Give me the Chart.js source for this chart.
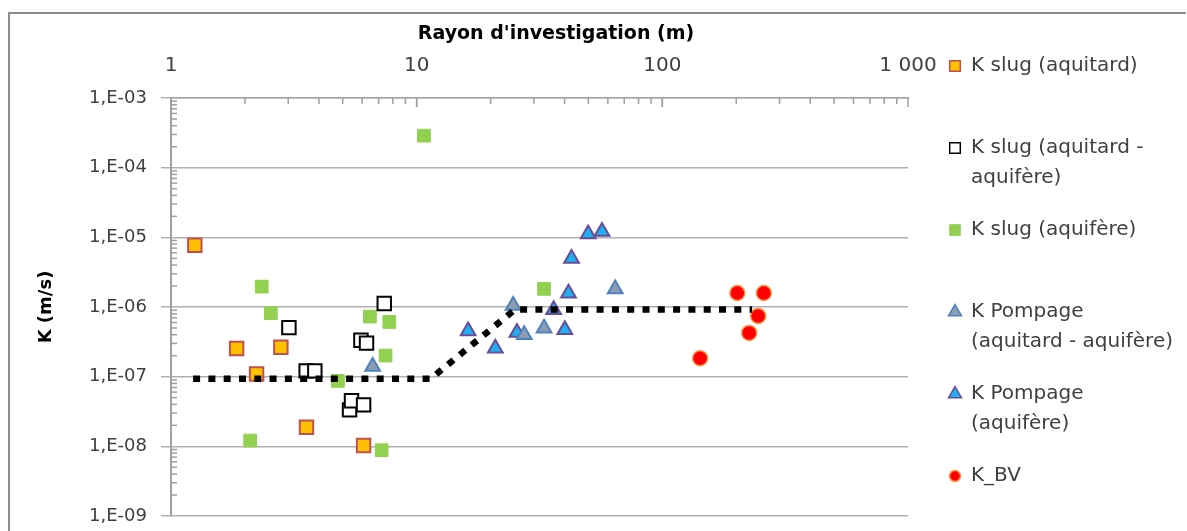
<!DOCTYPE html>
<html>
<head>
<meta charset="utf-8">
<script src="https://cdn.jsdelivr.net/npm/chart.js@4.4.1/dist/chart.umd.min.js"></script>
<style>
  html, body { margin: 0; padding: 0; background: #fff; overflow: hidden; }
  #graficoK { display: block; }
</style>
</head>
<body>
<canvas id="graficoK" width="1187" height="531"></canvas>
<script>
// valeurs (rayon en m, K en m/s)
const rayonSlugAquitard = [1.25, 1.85, 2.8, 2.23, 3.56, 6.08];
const kSlugAquitard = [7.7e-6, 2.53e-7, 2.65e-7, 1.09e-7, 1.88e-8, 1.03e-8];

const rayonSlugMixte = [3.02, 7.38, 5.93, 6.25, 3.55, 3.85, 5.33, 5.43, 6.08];
const kSlugMixte = [5.06e-7, 1.12e-6, 3.34e-7, 3.03e-7, 1.21e-7, 1.21e-7, 3.34e-8, 4.5e-8, 3.94e-8];

const rayonSlugAquifere = [10.7, 2.34, 2.55, 6.45, 7.74, 7.47, 4.78, 2.10, 7.2, 33.0];
const kSlugAquifere = [2.88e-4, 1.96e-6, 8.15e-7, 7.28e-7, 6.1e-7, 2.01e-7, 8.7e-8, 1.21e-8, 8.8e-9, 1.82e-6];

const rayonPompageMixte = [6.62, 24.7, 27.4, 33.0, 64.3];
const kPompageMixte = [1.4e-7, 1.05e-6, 3.98e-7, 4.97e-7, 1.82e-6];

const rayonPompageAquifere = [16.2, 20.9, 25.6, 36.1, 40.1, 41.5, 42.7, 49.9, 56.8];
const kPompageAquifere = [4.54e-7, 2.56e-7, 4.3e-7, 9.1e-7, 4.7e-7, 1.58e-6, 4.95e-6, 1.12e-5, 1.21e-5];

const rayonBV = [142.5, 202, 259, 245.5, 225.7];
const kBV = [1.84e-7, 1.59e-6, 1.59e-6, 7.45e-7, 4.25e-7];

// ligne pointillee de tendance
const rayonTendance = [1.23, 11.4, 25.1, 232];
const kTendance = [9.3e-8, 9.3e-8, 9.2e-7, 9.2e-7];

const ticksX = [1, 10, 100, 1000];
const etiquettesX = ['1', '10', '100', '1 000'];
const ticksY = [1e-9, 1e-8, 1e-7, 1e-6, 1e-5, 1e-4, 1e-3];
const etiquettesY = ['1,E-09', '1,E-08', '1,E-07', '1,E-06', '1,E-05', '1,E-04', '1,E-03'];

const nomsSeries = [
  ['K slug (aquitard)'],
  ['K slug (aquitard -', 'aquifère)'],
  ['K slug (aquifère)'],
  ['K Pompage', '(aquitard - aquifère)'],
  ['K Pompage', '(aquifère)'],
  ['K_BV']
];

const tituloX = "Rayon d'investigation (m)";
const tituloY = 'K (m/s)';

function points(xs, ys) {
  return xs.map(function (v, i) { return { x: v, y: ys[i] }; });
}

function estMajeur(v) {
  const l = Math.log10(v);
  return Math.abs(l - Math.round(l)) < 1e-9;
}

const FONT = '"DejaVu Sans", sans-serif';
const GRIS_TEXTE = '#404040';

// cadre, titres, petites graduations et legende
const decorations = {
  id: 'decorations',
  beforeDraw(chart) {
    const ctx = chart.ctx;
    ctx.save();
    ctx.strokeStyle = '#8c8c8c';
    ctx.lineWidth = 2;
    ctx.beginPath();
    ctx.moveTo(9, chart.height);
    ctx.lineTo(9, 13);
    ctx.lineTo(chart.width - 1, 13);
    ctx.stroke();
    ctx.restore();
  },
  afterDraw(chart) {
    const ctx = chart.ctx;
    const sx = chart.scales.x, sy = chart.scales.y;
    const area = chart.chartArea;
    ctx.save();
    ctx.strokeStyle = '#a0a0a0';
    ctx.lineWidth = 1.5;
    for (let n = -9; n < -3; n++) {
      for (let k = 2; k <= 9; k++) {
        const py = sy.getPixelForValue(k * Math.pow(10, n));
        ctx.beginPath();
        ctx.moveTo(area.left, py);
        ctx.lineTo(area.left + 6, py);
        ctx.stroke();
      }
    }
    for (let n = 0; n < 3; n++) {
      for (let k = 1; k <= 10; k++) {
        const px = sx.getPixelForValue(k * Math.pow(10, n));
        const l = (k === 1 || k === 10) ? 9 : 6;
        ctx.beginPath();
        ctx.moveTo(px, area.top);
        ctx.lineTo(px, area.top + l);
        ctx.stroke();
      }
    }

    ctx.fillStyle = '#000';
    ctx.textAlign = 'center';
    ctx.textBaseline = 'middle';
    ctx.font = 'bold 19px ' + FONT;
    ctx.fillText(tituloX, 556, 34);
    ctx.save();
    ctx.font = 'bold 18px ' + FONT;
    ctx.translate(46, (area.top + area.bottom) / 2);
    ctx.rotate(-Math.PI / 2);
    ctx.fillText(tituloY, 0, 0);
    ctx.restore();

    // legende
    let y0 = 66;
    chart.data.datasets.forEach(function (ds) {
      if (!ds.lignesLegende) return;
      ctx.fillStyle = ds.pointBackgroundColor;
      ctx.strokeStyle = ds.pointBorderColor;
      ctx.lineWidth = ds.bordLegende;
      Chart.helpers.drawPoint(ctx, {
        pointStyle: ds.pointStyle,
        radius: ds.rayonLegende,
        borderWidth: ds.bordLegende,
        rotation: 0
      }, 955, y0);
      ctx.font = '20px ' + FONT;
      ctx.textAlign = 'left';
      ctx.textBaseline = 'middle';
      ctx.fillStyle = GRIS_TEXTE;
      ds.lignesLegende.forEach(function (t, j) {
        ctx.fillText(t, 971, y0 + j * 30);
      });
      y0 += 82;
    });
    ctx.restore();
  }
};

function serie(nom, xs, ys, style, fond, bord, rayon, largeur, rayonLeg) {
  return {
    label: nom.join(' '),
    lignesLegende: nom,
    data: points(xs, ys),
    pointStyle: style,
    pointRadius: rayon,
    pointBackgroundColor: fond,
    pointBorderColor: bord,
    pointBorderWidth: largeur,
    backgroundColor: fond,
    borderColor: bord,
    rayonLegende: rayonLeg,
    bordLegende: Math.min(largeur, 1.5)
  };
}

const ctx = document.getElementById('graficoK');
new Chart(ctx, {
  type: 'scatter',
  data: {
    datasets: [
      {
        type: 'line',
        label: 'tendance',
        data: points(rayonTendance, kTendance),
        borderColor: '#000',
        borderWidth: 6.5,
        borderDash: [7, 8.3],
        borderCapStyle: 'butt',
        pointRadius: 0,
        fill: false,
        tension: 0
      },
      serie(nomsSeries[0], rayonSlugAquitard, kSlugAquitard, 'rect', '#FFC000', '#C0504D', 9.5, 2, 7.5),
      serie(nomsSeries[1], rayonSlugMixte, kSlugMixte, 'rect', '#FFFFFF', '#000000', 9.5, 2, 7.5),
      serie(nomsSeries[2], rayonSlugAquifere, kSlugAquifere, 'rect', '#92D050', '#92D050', 9, 1, 7.5),
      serie(nomsSeries[3], rayonPompageMixte, kPompageMixte, 'triangle', '#8C9DB3', '#4F81BD', 8.5, 2, 7.5),
      serie(nomsSeries[4], rayonPompageAquifere, kPompageAquifere, 'triangle', '#1FB0EE', '#6B4C9A', 8.5, 2, 7.5),
      serie(nomsSeries[5], rayonBV, kBV, 'circle', '#FF0000', '#F79646', 7.5, 1.5, 5.5)
    ]
  },
  options: {
    responsive: false,
    animation: false,
    events: [],
    layout: { padding: { left: 0, right: 279, top: 0, bottom: 15 } },
    plugins: {
      legend: { display: false },
      tooltip: { enabled: false }
    },
    scales: {
      x: {
        type: 'logarithmic',
        position: 'top',
        min: 1,
        max: 1000,
        afterFit: function (scale) { scale.height = 98; },
        grid: { display: false, drawTicks: false },
        border: { display: true, color: '#a6a6a6', width: 1.5 },
        ticks: {
          autoSkip: false,
          maxRotation: 0,
          padding: 20,
          color: GRIS_TEXTE,
          font: { family: FONT, size: 20 },
          callback: function (v) {
            const i = ticksX.findIndex(function (t) { return Math.abs(t - v) < 1e-9 * t; });
            return i >= 0 ? etiquettesX[i] : '';
          }
        }
      },
      y: {
        type: 'logarithmic',
        min: 1e-9,
        max: 1e-3,
        afterFit: function (scale) {
          scale.width = 171;
          scale.paddingTop = 0;
          scale.paddingBottom = 0;
        },
        grid: {
          drawTicks: true,
          tickLength: 10,
          lineWidth: 1.5,
          color: function (c) { return c.tick && estMajeur(c.tick.value) ? '#b0b0b0' : 'rgba(0,0,0,0)'; }
        },
        border: { display: true, color: '#a0a0a0', width: 2 },
        ticks: {
          autoSkip: false,
          padding: 14,
          color: GRIS_TEXTE,
          font: { family: FONT, size: 18 },
          callback: function (v) {
            const i = ticksY.findIndex(function (t) { return Math.abs(t - v) < 1e-6 * t; });
            return i >= 0 ? etiquettesY[i] : '';
          }
        }
      }
    }
  },
  plugins: [decorations]
});
</script>
</body>
</html>
